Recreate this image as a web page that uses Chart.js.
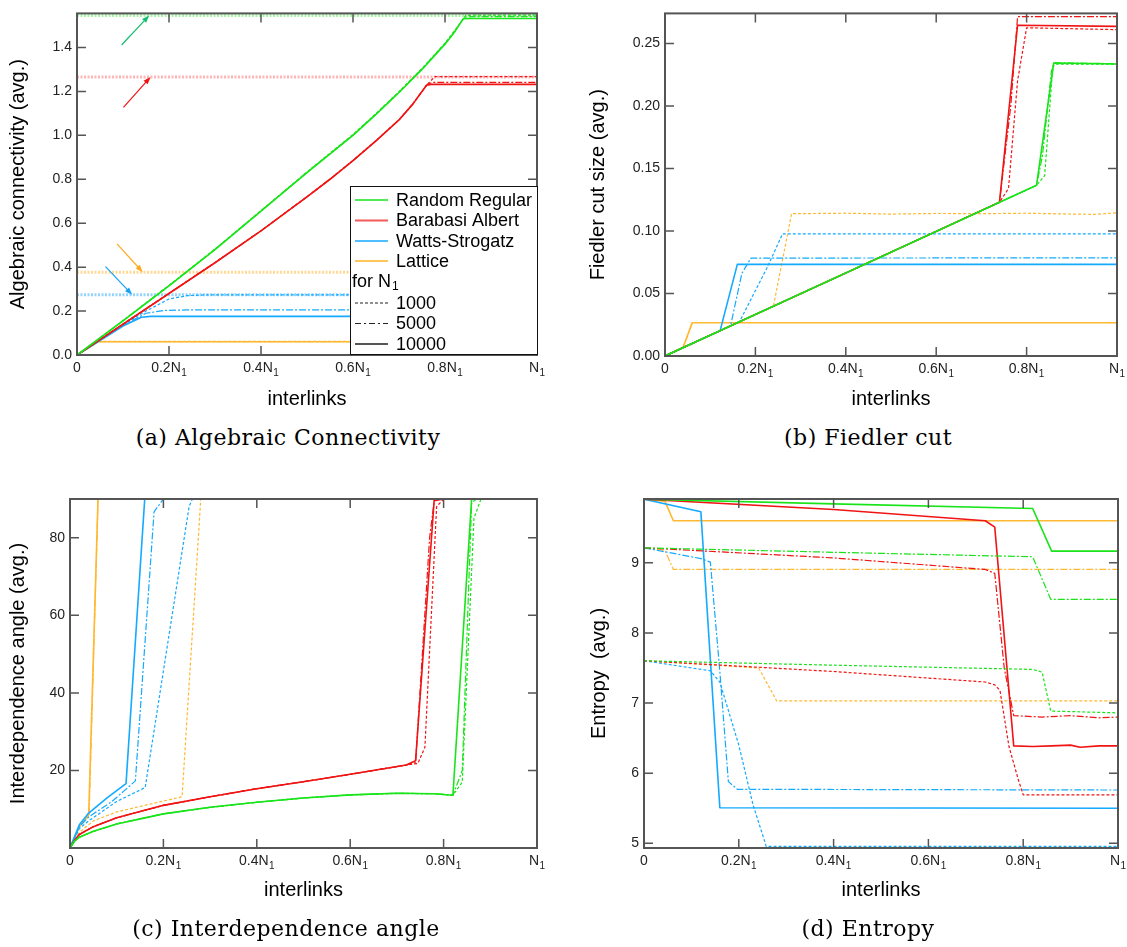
<!DOCTYPE html>
<html><head><meta charset="utf-8">
<script src="https://cdn.jsdelivr.net/npm/chart.js@4.4.1/dist/chart.umd.min.js"></script>
<style>
html,body{margin:0;padding:0;background:#fff;}
body{width:1127px;height:947px;position:relative;overflow:hidden;}
canvas{position:absolute;}
.cap{position:absolute;font-family:"DejaVu Serif","Liberation Serif",serif;font-size:22px;letter-spacing:0.5px;line-height:24px;color:#000;white-space:nowrap;transform:translateX(-50%);}
</style></head><body>
<canvas id="ca" width="560" height="420" style="left:0;top:0"></canvas>
<canvas id="cb" width="567" height="420" style="left:560px;top:0"></canvas>
<canvas id="cc" width="560" height="440" style="left:0;top:480px"></canvas>
<canvas id="cd" width="567" height="440" style="left:560px;top:480px"></canvas>
<div class="cap" style="left:288px;top:426px">(a) Algebraic Connectivity</div>
<div class="cap" style="left:868px;top:426px">(b) Fiedler cut</div>
<div class="cap" style="left:286px;top:917px">(c) Interdependence angle</div>
<div class="cap" style="left:868px;top:917px">(d) Entropy</div>
<script>
// ---------- shared axis data ----------
const xTickValues = [0, 0.2, 0.4, 0.6, 0.8, 1];
const xTickLabels = ['0', '0.2N\u2081', '0.4N\u2081', '0.6N\u2081', '0.8N\u2081', 'N\u2081'];
const legendNames = ['Random Regular', 'Barabasi Albert', 'Watts-Strogatz', 'Lattice'];
const legendSizes = ['1000', '5000', '10000'];

// ---------- (a) Algebraic connectivity ----------
const aYTicks = [0, 0.2, 0.4, 0.6, 0.8, 1.0, 1.2, 1.4];
const aYTickLabels = ['0.0', '0.2', '0.4', '0.6', '0.8', '1.0', '1.2', '1.4'];
const aRefRR = [[0, 1.546], [1, 1.546]];
const aRefBA = [[0, 1.266], [1, 1.266]];
const aRefLat = [[0, 0.377], [1, 0.377]];
const aRefWS = [[0, 0.274], [1, 0.274]];
const aArrowRR = [[0.097, 1.411], [0.157, 1.546]];
const aArrowBA = [[0.101, 1.127], [0.160, 1.266]];
const aArrowLat = [[0.087, 0.506], [0.143, 0.377]];
const aArrowWS = [[0.062, 0.402], [0.120, 0.274]];
const aRR10000 = [[0,0],[0.1,0.155],[0.2,0.315],[0.3,0.48],[0.4,0.655],[0.5,0.83],[0.6,1.0],[0.65,1.095],[0.7,1.195],[0.75,1.3],[0.8,1.415],[0.82,1.468],[0.84,1.531],[0.86,1.532],[1,1.532]];
const aRR5000 = [[0,0],[0.1,0.156],[0.2,0.316],[0.3,0.481],[0.4,0.656],[0.5,0.832],[0.6,1.002],[0.65,1.097],[0.7,1.197],[0.75,1.302],[0.8,1.417],[0.82,1.47],[0.842,1.538],[0.86,1.54],[1,1.54]];
const aRR1000 = [[0,0],[0.1,0.157],[0.2,0.317],[0.3,0.482],[0.4,0.657],[0.5,0.833],[0.6,1.004],[0.65,1.099],[0.7,1.199],[0.75,1.304],[0.8,1.42],[0.82,1.474],[0.845,1.546],[0.86,1.547],[1,1.547]];
const aBA10000 = [[0,0],[0.1,0.14],[0.2,0.28],[0.3,0.42],[0.4,0.565],[0.5,0.72],[0.55,0.8],[0.6,0.885],[0.65,0.975],[0.7,1.07],[0.73,1.142],[0.76,1.228],[0.77,1.232],[1,1.232]];
const aBA5000 = [[0,0],[0.1,0.14],[0.2,0.28],[0.3,0.42],[0.4,0.565],[0.5,0.72],[0.55,0.8],[0.6,0.885],[0.65,0.975],[0.7,1.07],[0.73,1.142],[0.76,1.229],[0.772,1.241],[1,1.241]];
const aBA1000 = [[0,0],[0.1,0.141],[0.2,0.281],[0.3,0.421],[0.4,0.566],[0.5,0.721],[0.55,0.801],[0.6,0.886],[0.65,0.976],[0.7,1.071],[0.73,1.143],[0.76,1.229],[0.778,1.267],[1,1.267]];
const aWS10000 = [[0,0],[0.05,0.066],[0.1,0.132],[0.14,0.172],[0.16,0.176],[1,0.176]];
const aWS5000 = [[0,0],[0.05,0.067],[0.1,0.135],[0.15,0.19],[0.19,0.203],[0.24,0.205],[1,0.205]];
const aWS1000 = [[0,0],[0.05,0.068],[0.1,0.138],[0.15,0.2],[0.2,0.255],[0.24,0.27],[0.28,0.274],[1,0.274]];
const aLat10000 = [[0,0],[0.045,0.06],[1,0.06]];
const aLat5000 = [[0,0],[0.046,0.061],[1,0.061]];
const aLat1000 = [[0,0],[0.047,0.062],[1,0.062]];

// ---------- (b) Fiedler cut ----------
const bYTicks = [0, 0.05, 0.1, 0.15, 0.2, 0.25];
const bYTickLabels = ['0.00', '0.05', '0.10', '0.15', '0.20', '0.25'];
const bRR10000 = [[0,0],[0.4,0.0664],[0.822,0.1365],[0.86,0.2343],[1,0.2335]];
const bRR5000 = [[0,0],[0.4,0.0664],[0.822,0.1365],[0.835,0.16],[0.855,0.228],[0.862,0.2345],[1,0.2338]];
const bRR1000 = [[0,0],[0.4,0.0664],[0.822,0.1365],[0.84,0.1443],[0.858,0.232],[0.866,0.2335],[1,0.2333]];
const bBA10000 = [[0,0],[0.4,0.0664],[0.74,0.123],[0.78,0.2645],[1,0.2636]];
const bBA5000 = [[0,0],[0.4,0.0664],[0.74,0.123],[0.765,0.2],[0.78,0.2714],[1,0.2714]];
const bBA1000 = [[0,0],[0.4,0.0664],[0.74,0.123],[0.76,0.134],[0.78,0.22],[0.8,0.2625],[1,0.261]];
const bWS10000 = [[0,0],[0.122,0.0203],[0.16,0.0733],[1,0.0733]];
const bWS5000 = [[0,0],[0.145,0.024],[0.17,0.066],[0.19,0.0783],[1,0.0785]];
const bWS1000 = [[0,0],[0.165,0.0275],[0.225,0.07],[0.26,0.0976],[1,0.0976]];
const bLat10000 = [[0,0],[0.04,0.0068],[0.06,0.0266],[1,0.0266]];
const bLat5000 = [[0,0],[0.04,0.0068],[0.061,0.0268],[1,0.0268]];
const bLat1000 = [[0,0],[0.24,0.04],[0.28,0.1138],[0.4,0.1142],[0.5,0.1135],[0.6,0.114],[0.7,0.1138],[0.8,0.1142],[0.9,0.1135],[0.95,0.1133],[1,0.1145]];

// ---------- (c) Interdependence angle ----------
const cYTicks = [20, 40, 60, 80];
const cYTickLabels = ['20', '40', '60', '80'];
const cRR10000 = [[0,0],[0.01,1.8],[0.02,2.8],[0.05,4.3],[0.1,6.2],[0.2,8.8],[0.3,10.5],[0.4,11.8],[0.5,12.9],[0.6,13.7],[0.7,14.1],[0.78,14],[0.82,13.6],[0.86,90],[1,90]];
const cRR5000 = [[0,0],[0.01,1.8],[0.02,2.8],[0.05,4.3],[0.1,6.2],[0.2,8.8],[0.3,10.5],[0.4,11.8],[0.5,12.9],[0.6,13.7],[0.7,14.1],[0.78,14],[0.82,13.6],[0.84,20],[0.86,89],[0.87,90],[1,90]];
const cRR1000 = [[0,0],[0.01,1.8],[0.02,2.8],[0.05,4.3],[0.1,6.2],[0.2,8.8],[0.3,10.5],[0.4,11.8],[0.5,12.9],[0.6,13.7],[0.7,14.1],[0.78,14],[0.82,13.6],[0.84,17],[0.865,85],[0.88,90],[1,90]];
const cBA10000 = [[0,0],[0.01,2],[0.02,3.5],[0.05,5.5],[0.1,7.8],[0.2,11],[0.3,13.2],[0.4,15.3],[0.5,17.1],[0.6,19],[0.72,21.4],[0.74,22.5],[0.78,90],[1,90]];
const cBA5000 = [[0,0],[0.01,2],[0.02,3.5],[0.05,5.5],[0.1,7.8],[0.2,11],[0.3,13.2],[0.4,15.3],[0.5,17.1],[0.6,19],[0.72,21.4],[0.74,22],[0.77,80],[0.78,89.5],[0.8,90],[1,90]];
const cBA1000 = [[0,0],[0.01,2],[0.02,3.5],[0.05,5.5],[0.1,7.8],[0.2,11],[0.3,13.2],[0.4,15.3],[0.5,17.1],[0.6,19],[0.72,21.4],[0.745,21.8],[0.76,26],[0.785,88],[0.8,90],[1,90]];
const cWS10000 = [[0,0],[0.02,6],[0.04,9],[0.08,13],[0.12,16.6],[0.16,90],[1,90]];
const cWS5000 = [[0,0],[0.02,5.5],[0.04,8],[0.09,12],[0.14,17.3],[0.18,86.7],[0.2,90],[1,90]];
const cWS1000 = [[0,0],[0.02,5],[0.04,7],[0.1,12],[0.161,15.6],[0.255,88],[0.262,90],[1,90]];
const cLat10000 = [[0,0],[0.02,5.5],[0.04,8.5],[0.06,90],[1,90]];
const cLat5000 = [[0,0],[0.02,5.4],[0.041,8.4],[0.06,90],[1,90]];
const cLat1000 = [[0,0],[0.02,4],[0.05,7],[0.1,9.3],[0.16,11],[0.24,13.2],[0.28,90],[1,90]];

// ---------- (d) Entropy ----------
const dYTicks = [5, 6, 7, 8, 9];
const dYTickLabels = ['5', '6', '7', '8', '9'];
const dRR10000 = [[0,9.907],[0.4,9.84],[0.82,9.774],[0.86,9.166],[1,9.166]];
const dRR5000 = [[0,9.214],[0.4,9.15],[0.82,9.086],[0.858,8.48],[1,8.48]];
const dRR1000 = [[0,7.603],[0.4,7.54],[0.82,7.48],[0.84,7.44],[0.858,6.886],[1,6.86]];
const dBA10000 = [[0,9.907],[0.4,9.76],[0.72,9.6],[0.74,9.51],[0.78,6.39],[0.82,6.38],[0.86,6.39],[0.9,6.4],[0.92,6.37],[0.96,6.39],[1,6.39]];
const dBA5000 = [[0,9.214],[0.4,9.07],[0.72,8.905],[0.74,8.85],[0.76,7.5],[0.78,6.82],[0.84,6.8],[0.9,6.82],[0.96,6.79],[1,6.8]];
const dBA1000 = [[0,7.603],[0.4,7.45],[0.72,7.3],[0.74,7.26],[0.751,7.18],[0.77,6.38],[0.79,5.9],[0.8,5.69],[1,5.69]];
const dWS10000 = [[0,9.907],[0.12,9.727],[0.16,5.508],[1,5.5]];
const dWS5000 = [[0,9.214],[0.12,9.06],[0.14,9.01],[0.16,7.45],[0.178,5.88],[0.197,5.77],[1,5.76]];
const dWS1000 = [[0,7.603],[0.14,7.46],[0.16,7.3],[0.2,6.4],[0.23,5.55],[0.258,4.955],[1,4.955]];
const dLat10000 = [[0,9.907],[0.044,9.88],[0.062,9.6],[1,9.6]];
const dLat5000 = [[0,9.214],[0.044,9.18],[0.062,8.905],[1,8.905]];
const dLat1000 = [[0,7.603],[0.242,7.5],[0.28,7.03],[1,7.03]];

// ---------- styles ----------
const FONT = '"Liberation Sans", Arial, Helvetica, sans-serif';
const COL = { RR: 'rgb(25,228,25)', BA: 'rgb(240,20,20)', WS: 'rgb(20,170,255)', LAT: 'rgb(255,184,50)' };
const COLA = { RR: 'rgba(25,228,25,0.75)', BA: 'rgba(240,20,20,0.7)', WS: 'rgba(20,170,255,0.75)', LAT: 'rgba(255,184,50,0.8)' };
const DASH = { 1000: [3, 2], 5000: [7, 2, 2, 2], 10000: [] };

function ds(points, color, size, width) {
  return {
    data: points.map(p => ({ x: p[0], y: p[1] })),
    borderColor: color,
    borderWidth: width || (size === 10000 ? 1.6 : 1.2),
    borderDash: DASH[size] || [],
    borderJoinStyle: 'round',
    pointRadius: 0, pointHoverRadius: 0, fill: false, tension: 0
  };
}
function refDs(points, color) {
  return {
    data: points.map(p => ({ x: p[0], y: p[1] })),
    borderColor: color, borderWidth: 3, borderDash: [2, 1.5],
    pointRadius: 0, pointHoverRadius: 0, fill: false, tension: 0
  };
}

const framePlugin = {
  id: 'framePlugin',
  afterDatasetsDraw(chart) {
    const { ctx, chartArea: { left, right, top, bottom }, scales: { x, y } } = chart;
    const L = 9;
    ctx.save();
    ctx.strokeStyle = '#555';
    ctx.lineWidth = 1.5;
    ctx.beginPath();
    x.ticks.forEach(t => {
      const px = x.getPixelForValue(t.value);
      if (px > left + 1 && px < right - 1) {
        ctx.moveTo(px, bottom); ctx.lineTo(px, bottom - L);
        ctx.moveTo(px, top); ctx.lineTo(px, top + L);
      }
    });
    y.ticks.forEach(t => {
      const py = y.getPixelForValue(t.value);
      if (py < bottom - 1 && py > top + 1) {
        ctx.moveTo(left, py); ctx.lineTo(left + L, py);
        ctx.moveTo(right, py); ctx.lineTo(right - L, py);
      }
    });
    ctx.stroke();
    ctx.lineWidth = 2;
    ctx.strokeRect(left, top, right - left, bottom - top);
    // x tick labels with real subscripts, placed through the x scale
    ctx.fillStyle = '#222';
    ctx.textBaseline = 'alphabetic';
    ctx.textAlign = 'left';
    x.ticks.forEach((t, i) => {
      const lab = xTickLabels[i];
      const hasSub = lab.endsWith('\u2081');
      const main = hasSub ? lab.slice(0, -1) : lab;
      ctx.font = '14px ' + FONT;
      const wm = ctx.measureText(main).width;
      ctx.font = '10px ' + FONT;
      const ws = hasSub ? ctx.measureText('1').width + 0.5 : 0;
      const px = x.getPixelForValue(t.value);
      const sx = px - (wm + ws) / 2;
      const by = bottom + 17;
      ctx.font = '14px ' + FONT;
      ctx.fillText(main, sx, by);
      if (hasSub) { ctx.font = '10px ' + FONT; ctx.fillText('1', sx + wm + 0.5, by + 4); }
    });
    ctx.restore();
  }
};

const arrowPlugin = {
  id: 'arrowPlugin',
  afterDatasetsDraw(chart) {
    const { ctx, scales: { x, y } } = chart;
    const list = [[aArrowRR, 'rgb(20,190,110)'], [aArrowBA, 'rgb(240,20,20)'], [aArrowLat, 'rgb(255,170,30)'], [aArrowWS, 'rgb(20,160,245)']];
    ctx.save();
    list.forEach(([a, c]) => {
      const x1 = x.getPixelForValue(a[0][0]), y1 = y.getPixelForValue(a[0][1]);
      const x2 = x.getPixelForValue(a[1][0]), y2 = y.getPixelForValue(a[1][1]);
      const ang = Math.atan2(y2 - y1, x2 - x1);
      ctx.strokeStyle = c; ctx.fillStyle = c; ctx.lineWidth = 1.2;
      ctx.beginPath(); ctx.moveTo(x1, y1); ctx.lineTo(x2 - 5 * Math.cos(ang), y2 - 5 * Math.sin(ang)); ctx.stroke();
      ctx.beginPath();
      ctx.moveTo(x2, y2);
      ctx.lineTo(x2 - 8 * Math.cos(ang - 0.35), y2 - 8 * Math.sin(ang - 0.35));
      ctx.lineTo(x2 - 8 * Math.cos(ang + 0.35), y2 - 8 * Math.sin(ang + 0.35));
      ctx.closePath(); ctx.fill();
    });
    ctx.restore();
  }
};

const legendPlugin = {
  id: 'legendPlugin',
  afterDraw(chart) {
    const { ctx, chartArea: { right, bottom } } = chart;
    const w = 188, h = 169;
    const bx = right - w + 1, by = bottom - h;
    ctx.save();
    ctx.fillStyle = '#fff';
    ctx.fillRect(bx, by, w, h);
    ctx.strokeStyle = '#111'; ctx.lineWidth = 1;
    ctx.strokeRect(bx + 0.5, by + 0.5, w - 1, h - 1);
    ctx.font = '18px ' + FONT;
    ctx.textBaseline = 'middle';
    ctx.fillStyle = '#000';
    const rows = [14, 34.5, 55, 75];
    const cols = [COLA.RR, COLA.BA, COLA.WS, COLA.LAT];
    legendNames.forEach((n, i) => {
      ctx.strokeStyle = cols[i]; ctx.lineWidth = 2; ctx.setLineDash([]);
      ctx.beginPath(); ctx.moveTo(bx + 5, by + rows[i]); ctx.lineTo(bx + 38, by + rows[i]); ctx.stroke();
      ctx.fillText(n, bx + 46, by + rows[i] + 1);
    });
    ctx.fillText('for N', bx + 2, by + 96);
    const wN = ctx.measureText('for N').width;
    ctx.font = '12px ' + FONT;
    ctx.fillText('1', bx + 2 + wN + 1, by + 101);
    ctx.font = '18px ' + FONT;
    const srows = [117, 137.5, 158];
    const dashes = [[3, 2], [6, 3, 2, 3], []];
    legendSizes.forEach((s, i) => {
      ctx.strokeStyle = i === 2 ? '#555' : '#222'; ctx.lineWidth = i === 2 ? 2 : 1.2; ctx.setLineDash(dashes[i]);
      ctx.beginPath(); ctx.moveTo(bx + 5, by + srows[i]); ctx.lineTo(bx + 38, by + srows[i]); ctx.stroke();
      ctx.setLineDash([]);
      ctx.fillText(s, bx + 46, by + srows[i] + 1);
    });
    ctx.restore();
  }
};

function makeChart(id, datasets, o) {
  const yT = o.yTicks, yL = o.yLabels;
  return new Chart(document.getElementById(id), {
    type: 'line',
    data: { datasets },
    options: {
      responsive: false, animation: false, devicePixelRatio: 1,
      events: [],
      layout: { padding: o.padding },
      plugins: { legend: { display: false }, tooltip: { enabled: false } },
      scales: {
        x: {
          type: 'linear', min: 0, max: 1,
          afterBuildTicks: s => { s.ticks = xTickValues.map(v => ({ value: v })); },
          afterFit: s => { s.height = 55; },
          grid: { display: false, drawTicks: false },
          border: { display: false },
          ticks: { display: false, autoSkip: false, maxRotation: 0 },
          title: { display: true, text: 'interlinks', color: '#000', font: { size: 20, family: FONT, lineHeight: 1 },
                   padding: { top: 0, bottom: o.xTitlePad } }
        },
        y: {
          type: 'linear', min: o.yMin, max: o.yMax,
          afterBuildTicks: s => { s.ticks = yT.map(v => ({ value: v })); },
          afterFit: s => { s.width = o.yWidth; },
          grid: { display: false, drawTicks: false },
          border: { display: false },
          ticks: { autoSkip: false, padding: 5, color: '#222', font: { size: 14, family: FONT },
                   callback: (v, i) => yL[i] },
          title: { display: true, text: o.yTitle, color: '#000', font: { size: 20, family: FONT, lineHeight: 1 },
                   padding: { top: o.yTitlePad, bottom: 0 } }
        }
      }
    },
    plugins: o.plugins
  });
}

// (a)
makeChart('ca', [
  ds(aRR10000, COL.RR, 10000), ds(aRR5000, COL.RR, 5000), ds(aRR1000, COL.RR, 1000),
  ds(aBA10000, COL.BA, 10000), ds(aBA5000, COL.BA, 5000), ds(aBA1000, COL.BA, 1000),
  ds(aWS10000, COL.WS, 10000), ds(aWS5000, COL.WS, 5000), ds(aWS1000, COL.WS, 1000),
  ds(aLat10000, COL.LAT, 10000), ds(aLat5000, COL.LAT, 5000), ds(aLat1000, COL.LAT, 1000),
  refDs(aRefRR, 'rgba(60,230,60,0.45)'), refDs(aRefBA, 'rgba(255,70,70,0.4)'),
  refDs(aRefLat, 'rgba(255,185,60,0.55)'), refDs(aRefWS, 'rgba(40,170,255,0.5)')
], { yMin: 0, yMax: 1.555, yTicks: aYTicks, yLabels: aYTickLabels, yTitle: 'Algebraic connectivity (avg.)',
     yWidth: 77, yTitlePad: 8.5, xTitlePad: 1, padding: { left: 0, right: 23, top: 7, bottom: 10 },
     plugins: [framePlugin, arrowPlugin, legendPlugin] });

// (b)
makeChart('cb', [
  ds(bRR10000, COL.RR, 10000), ds(bRR5000, COL.RR, 5000), ds(bRR1000, COL.RR, 1000),
  ds(bBA10000, COL.BA, 10000), ds(bBA5000, COL.BA, 5000), ds(bBA1000, COL.BA, 1000),
  ds(bWS10000, COL.WS, 10000), ds(bWS5000, COL.WS, 5000), ds(bWS1000, COL.WS, 1000),
  ds(bLat10000, COL.LAT, 10000), ds(bLat5000, COL.LAT, 5000), ds(bLat1000, COL.LAT, 1000)
], { yMin: 0, yMax: 0.274, yTicks: bYTicks, yLabels: bYTickLabels, yTitle: 'Fiedler cut size (avg.)',
     yWidth: 105, yTitlePad: 28, xTitlePad: 2, padding: { left: 0, right: 10, top: 6, bottom: 9 },
     plugins: [framePlugin] });

// (c)
makeChart('cc', [
  ds(cRR10000, COL.RR, 10000), ds(cRR5000, COL.RR, 5000), ds(cRR1000, COL.RR, 1000),
  ds(cBA10000, COL.BA, 10000), ds(cBA5000, COL.BA, 5000), ds(cBA1000, COL.BA, 1000),
  ds(cWS10000, COL.WS, 10000), ds(cWS5000, COL.WS, 5000), ds(cWS1000, COL.WS, 1000),
  ds(cLat10000, COL.LAT, 10000), ds(cLat5000, COL.LAT, 5000), ds(cLat1000, COL.LAT, 1000)
], { yMin: 0, yMax: 90, yTicks: cYTicks, yLabels: cYTickLabels, yTitle: 'Interdependence angle (avg.)',
     yWidth: 70, yTitlePad: 8, xTitlePad: 3, padding: { left: 0, right: 23, top: 19, bottom: 17 },
     plugins: [framePlugin] });

// (d)
makeChart('cd', [
  ds(dRR10000, COL.RR, 10000), ds(dRR5000, COL.RR, 5000), ds(dRR1000, COL.RR, 1000),
  ds(dBA10000, COL.BA, 10000), ds(dBA5000, COL.BA, 5000), ds(dBA1000, COL.BA, 1000),
  ds(dWS10000, COL.WS, 10000), ds(dWS5000, COL.WS, 5000), ds(dWS1000, COL.WS, 1000),
  ds(dLat10000, COL.LAT, 10000), ds(dLat5000, COL.LAT, 5000), ds(dLat1000, COL.LAT, 1000)
], { yMin: 4.933, yMax: 9.91, yTicks: dYTicks, yLabels: dYTickLabels, yTitle: 'Entropy  (avg.)',
     yWidth: 84, yTitlePad: 29, xTitlePad: 3, padding: { left: 0, right: 9, top: 19, bottom: 17 },
     plugins: [framePlugin] });
</script>
</body></html>
